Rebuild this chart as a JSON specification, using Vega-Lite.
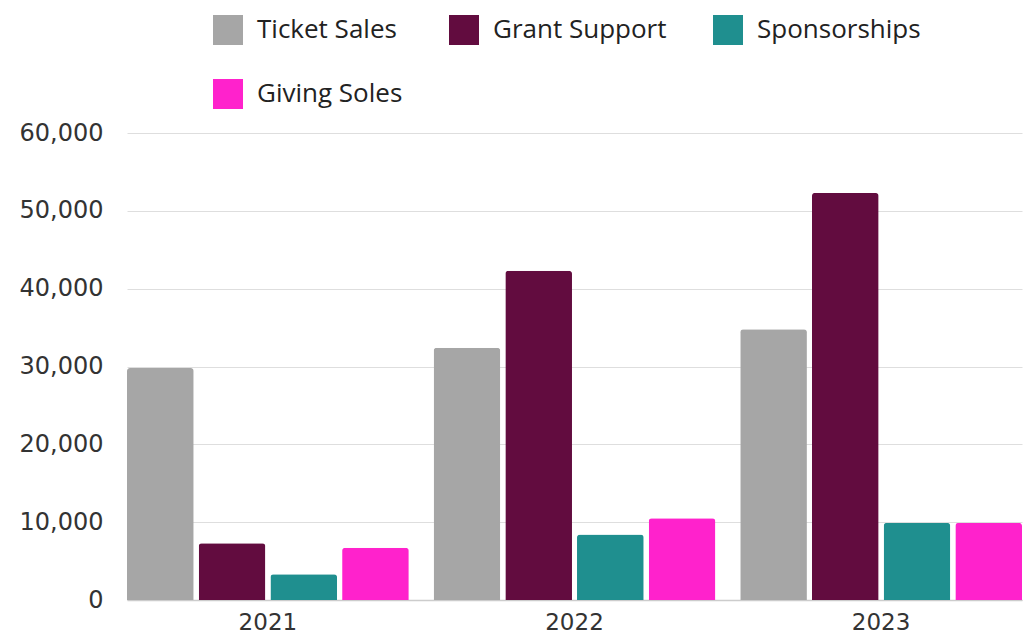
{
  "$schema": "https://vega.github.io/schema/vega-lite/v6.json",
  "width": 895,
  "height": 467,
  "autosize": {"type": "none"},
  "padding": {"left": 127, "top": 133, "right": 2, "bottom": 39},
  "background": "white",
  "data": {
    "values": [
      {"year": "2021", "series": "Ticket Sales", "value": 29800},
      {"year": "2021", "series": "Grant Support", "value": 7300},
      {"year": "2021", "series": "Sponsorships", "value": 3300},
      {"year": "2021", "series": "Giving Soles", "value": 6700},
      {"year": "2022", "series": "Ticket Sales", "value": 32400},
      {"year": "2022", "series": "Grant Support", "value": 42300},
      {"year": "2022", "series": "Sponsorships", "value": 8400},
      {"year": "2022", "series": "Giving Soles", "value": 10500},
      {"year": "2023", "series": "Ticket Sales", "value": 34800},
      {"year": "2023", "series": "Grant Support", "value": 52300},
      {"year": "2023", "series": "Sponsorships", "value": 9900},
      {"year": "2023", "series": "Giving Soles", "value": 9900}
    ]
  },
  "mark": {"type": "bar", "cornerRadiusTopLeft": 3, "cornerRadiusTopRight": 3},
  "encoding": {
    "x": {
      "field": "year", "type": "nominal",
      "scale": {"paddingInner": 0.081, "paddingOuter": 0},
      "axis": {"title": null, "labelAngle": 0, "labelFontSize": 23, "labelFont": "DejaVu Sans", "labelColor": "#333333", "labelPadding": 11, "ticks": false, "domain": true, "domainColor": "#cccccc", "domainWidth": 1.5, "grid": false}
    },
    "xOffset": {
      "field": "series", "type": "nominal",
      "sort": ["Ticket Sales", "Grant Support", "Sponsorships", "Giving Soles"],
      "scale": {"paddingInner": 0.07, "paddingOuter": 0}
    },
    "y": {
      "field": "value", "type": "quantitative",
      "scale": {"domain": [0, 60000], "nice": false},
      "axis": {"title": null, "values": [0, 10000, 20000, 30000, 40000, 50000, 60000], "format": ",d", "labelOverlap": false, "labelFontSize": 24, "labelFont": "DejaVu Sans", "labelColor": "#333333", "labelPadding": 24, "ticks": false, "domain": false, "gridColor": "#dedede", "gridWidth": 1}
    },
    "color": {
      "field": "series", "type": "nominal",
      "sort": ["Ticket Sales", "Grant Support", "Sponsorships", "Giving Soles"],
      "scale": {"domain": ["Ticket Sales", "Grant Support", "Sponsorships", "Giving Soles"], "range": ["#a6a6a6", "#620c3f", "#1f8f8f", "#ff22cc"]},
      "legend": {
        "title": null, "orient": "none", "legendX": 86, "legendY": -118,
        "direction": "horizontal", "columns": 3,
        "symbolType": "square", "symbolSize": 900, "symbolStrokeWidth": 0, "symbolOpacity": 1,
        "labelFontSize": 26, "labelFont": "Open Sans", "labelColor": "#222222", "labelOffset": 14,
        "columnPadding": 46, "rowPadding": 34, "labelLimit": 300
      }
    }
  },
  "config": {"view": {"stroke": null}}
}
